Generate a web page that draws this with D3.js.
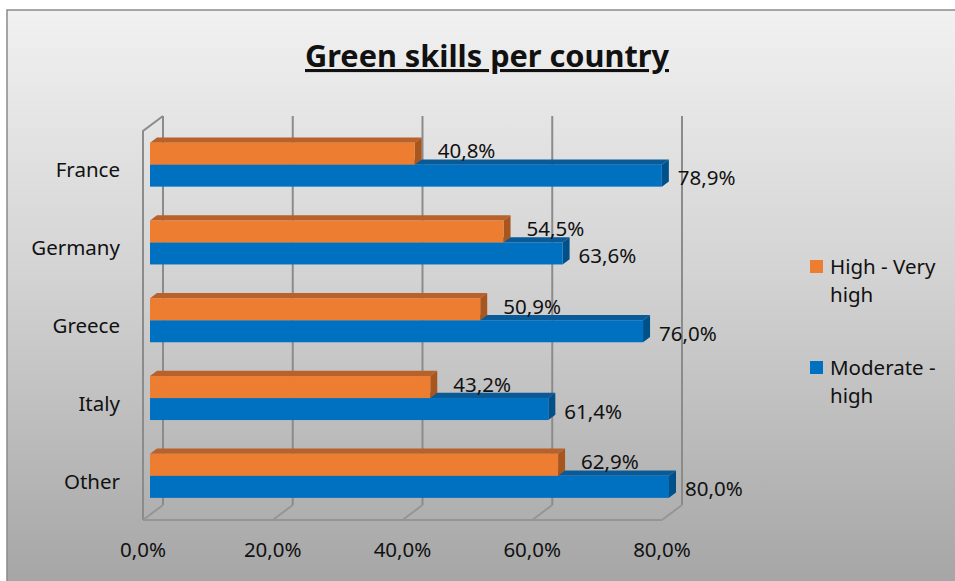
<!DOCTYPE html>
<html>
<head>
<meta charset="utf-8">
<script src="https://cdn.jsdelivr.net/npm/d3@7"></script>
<style>
  html, body { margin: 0; padding: 0; background: #ffffff; }
  svg { display: block; }
  text { font-family: "Noto Sans", "Open Sans", sans-serif; fill: #111; }
</style>
</head>
<body>
<svg id="chart" width="955" height="581"></svg>
<script>
// Survey shares per country
const categories = ["France", "Germany", "Greece", "Italy", "Other"];
const seriesNames = ["High - Very high", "Moderate - high"];
const highVeryHigh = [40.8, 54.5, 50.9, 43.2, 62.9];
const moderateHigh = [78.9, 63.6, 76.0, 61.4, 80.0];
const tickValues = [0, 20, 40, 60, 80];
const titleText = "Green skills per country";

const fmt = v => v.toFixed(1).replace(".", ",") + "%";
const fontSize = 20.5;
const textShift = 2; // optical centring of text on its anchor line

const svg = d3.select("#chart");
const defs = svg.append("defs");

const bg = defs.append("linearGradient")
  .attr("id", "bgGrad").attr("x1", 0).attr("y1", 0).attr("x2", 0).attr("y2", 1);
bg.append("stop").attr("offset", "0%").attr("stop-color", "#f1f1f1");
bg.append("stop").attr("offset", "45%").attr("stop-color", "#d3d3d3");
bg.append("stop").attr("offset", "100%").attr("stop-color", "#a3a3a3");

// chart area frame
svg.append("rect")
  .attr("x", 7).attr("y", 10).attr("width", 960).attr("height", 590)
  .attr("fill", "url(#bgGrad)")
  .attr("stroke", "#8a8a8a").attr("stroke-width", 1.5);

// title
svg.append("text")
  .attr("x", 487).attr("y", 67)
  .attr("text-anchor", "middle")
  .attr("font-size", 31).attr("font-weight", "bold")
  .attr("text-decoration", "underline")
  .attr("textLength", 364).attr("lengthAdjust", "spacingAndGlyphs")
  .text(titleText);

// 3D plot box: front plane scales plus a depth vector
const x = d3.scaleLinear().domain([0, 80]).range([143, 662]);
const y = d3.scaleBand().domain(categories).range([131, 520]);
const depth = { dx: 20, dy: -15 };
const at = (px, py, t) => [px + depth.dx * t, py + depth.dy * t];
const yTop = y.range()[0], yBot = y.range()[1];

const grid = svg.append("g").attr("fill", "none").attr("stroke", "#8b8b8b").attr("stroke-width", 2);
// back wall gridlines
tickValues.forEach(v => {
  const [bx, by0] = at(x(v), yTop, 1);
  const [, by1] = at(x(v), yBot, 1);
  grid.append("line").attr("x1", bx).attr("y1", by0).attr("x2", bx).attr("y2", by1);
});
// left wall
grid.append("polyline")
  .attr("points", [[x(0), yBot], [x(0), yTop], at(x(0), yTop, 1)].map(p => p.join(",")).join(" "));
// floor
const floor = svg.append("g").attr("fill", "none").attr("stroke", "#959595").attr("stroke-width", 2);
floor.append("line").attr("x1", x(0)).attr("y1", yBot).attr("x2", x(80)).attr("y2", yBot);
tickValues.forEach(v => {
  const [bx, by] = at(x(v), yBot, 1);
  floor.append("line").attr("x1", x(v)).attr("y1", yBot).attr("x2", bx).attr("y2", by);
});

// bars
const barFront = 0.35, barBack = 0.7;
const barH = 22;
const colors = {
  orange: { front: "#ed7d31", top: "#b9612a", side: "#a8561f" },
  blue: { front: "#0070c0", top: "#0a5a98", side: "#005089" }
};

function bar(g, v, cat, offset, c) {
  const cy = y(cat) + y.bandwidth() / 2;
  const [x0, yc] = at(x(0), cy, barFront);
  const x1 = at(x(v), cy, barFront)[0];
  const t = yc + offset, b = t + barH;
  const dx = depth.dx * (barBack - barFront), dy = depth.dy * (barBack - barFront);
  const pts = a => a.map(p => p.join(",")).join(" ");
  g.append("polygon").attr("fill", c.top)
    .attr("points", pts([[x0, t], [x0 + dx, t + dy], [x1 + dx, t + dy], [x1, t]]));
  g.append("polygon").attr("fill", c.side)
    .attr("points", pts([[x1, t], [x1 + dx, t + dy], [x1 + dx, b + dy], [x1, b]]));
  g.append("rect").attr("fill", c.front)
    .attr("x", x0).attr("y", t).attr("width", x1 - x0).attr("height", barH);
  return { x1, t, b };
}

const bars = svg.append("g");
const labels = svg.append("g").attr("font-size", fontSize);
categories.forEach((cat, i) => {
  const gb = bar(bars, moderateHigh[i], cat, 0, colors.blue);
  const go = bar(bars, highVeryHigh[i], cat, -barH, colors.orange);
  labels.append("text").attr("x", go.x1 + 23).attr("y", (go.t + go.b) / 2 - 3 + textShift)
    .attr("dominant-baseline", "middle").text(fmt(highVeryHigh[i]));
  labels.append("text").attr("x", gb.x1 + 16).attr("y", (gb.t + gb.b) / 2 + 2 + textShift)
    .attr("dominant-baseline", "middle").text(fmt(moderateHigh[i]));
});

// category axis labels
svg.append("g").attr("font-size", fontSize)
  .selectAll("text").data(categories).join("text")
  .attr("x", 120).attr("y", d => y(d) + y.bandwidth() / 2 + textShift)
  .attr("text-anchor", "end").attr("dominant-baseline", "middle")
  .text(d => d);

// value axis tick labels
svg.append("g").attr("font-size", fontSize)
  .selectAll("text").data(tickValues).join("text")
  .attr("x", d => x(d)).attr("y", 550 + 1)
  .attr("text-anchor", "middle").attr("dominant-baseline", "middle")
  .text(d => fmt(d));

// legend
const legend = svg.append("g").attr("font-size", fontSize);
const legendItems = [
  { lines: ["High - Very", "high"], color: colors.orange.front, y: 267 },
  { lines: ["Moderate -", "high"], color: colors.blue.front, y: 368 }
];
legendItems.forEach(it => {
  legend.append("rect").attr("x", 810).attr("y", it.y - 7).attr("width", 13).attr("height", 13)
    .attr("fill", it.color);
  it.lines.forEach((ln, j) => {
    legend.append("text").attr("x", 830).attr("y", it.y + j * 28 + 1)
      .attr("dominant-baseline", "middle").text(ln);
  });
});
</script>
</body>
</html>
